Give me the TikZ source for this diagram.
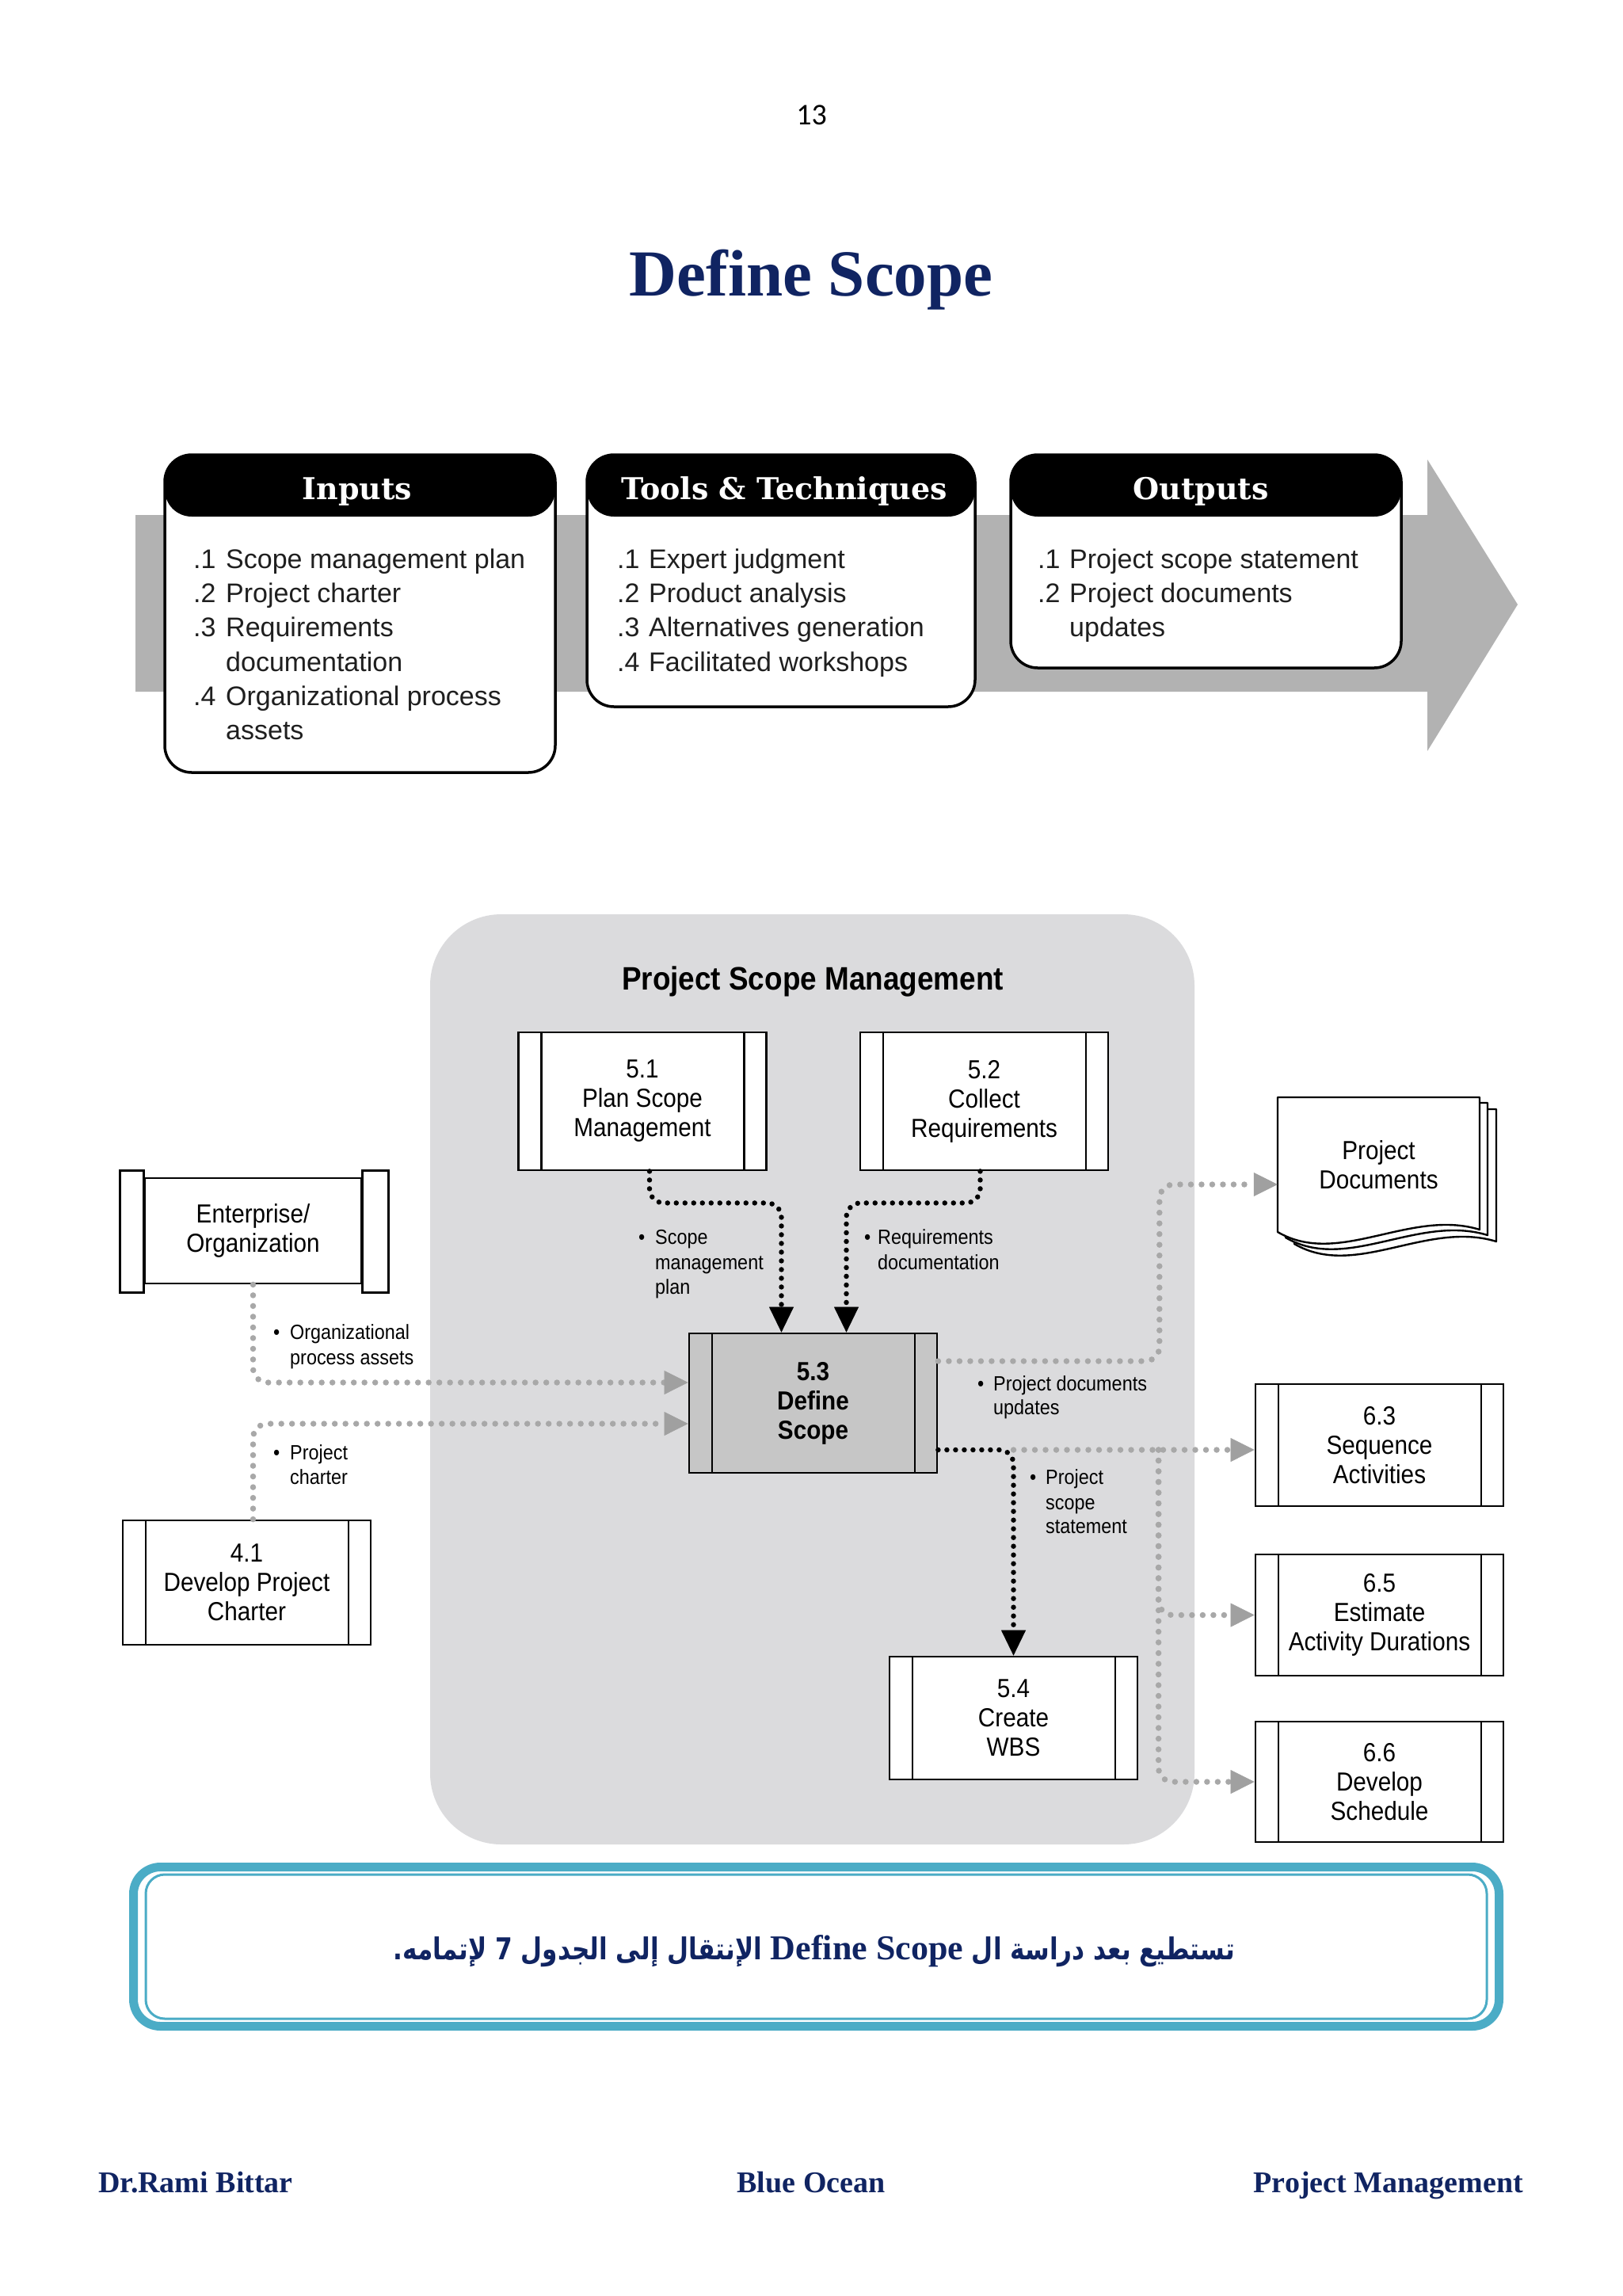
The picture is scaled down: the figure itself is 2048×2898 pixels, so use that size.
\documentclass[tikz,border=0pt]{standalone}
\usepackage{fontspec}
\setmainfont{Liberation Sans}
\newfontfamily\serifbf{Liberation Serif}
\newfontfamily\slabf{DejaVu Serif}
\newfontfamily\narrowf[FakeStretch=0.9]{Liberation Sans}
\newfontfamily\numf{Carlito}
\newfontfamily\arabicfont[Script=Arabic,FakeStretch=0.82]{DejaVu Sans}
\TeXXeTstate=1
\usetikzlibrary{arrows.meta,calc}
\newcommand\setfs[2]{\fontsize{#1}{#2}\selectfont}
\definecolor{navy}{RGB}{16,36,98}
\definecolor{boxteal}{RGB}{75,172,198}
\definecolor{bandgray}{RGB}{178,178,178}
\definecolor{regiongray}{RGB}{219,219,221}
\definecolor{procgray}{RGB}{198,198,198}
\definecolor{dotgray}{RGB}{168,168,168}
\definecolor{arrowgray}{RGB}{160,160,160}
\begin{document}
\begin{tikzpicture}[x=1pt,y=-1pt,
  proc/.style={draw, line width=2.8pt, fill=white, minimum width=313pt, minimum height=#1,
    inner sep=0pt, align=center, font=\narrowf\setfs{33}{37},
    path picture={
      \draw[line width=2.4pt] ([xshift=29pt]path picture bounding box.north west) -- ([xshift=29pt]path picture bounding box.south west);
      \draw[line width=2.4pt] ([xshift=-28pt]path picture bounding box.north east) -- ([xshift=-28pt]path picture bounding box.south east);}},
  proc/.default=155pt,
  topbox/.style={draw, line width=3.5pt, fill=white, rounded corners=34pt, inner sep=0pt,
    path picture={\fill[black] (path picture bounding box.north west) rectangle ([yshift=-78pt]path picture bounding box.north east);}},
  hdr/.style={anchor=base, inner sep=0pt, text=white, font=\slabf\bfseries\setfs{38}{40}},
  item/.style={anchor=base west, inner sep=0pt, text=black!88, font=\setfs{34}{40}},
  lbl/.style={anchor=base west, inner sep=0pt, font=\narrowf\setfs{26}{31}},
  foot/.style={inner sep=0pt, text=navy, font=\serifbf\bfseries\setfs{38}{40}},
  blackdot/.style={draw=black, line width=6.5pt, line cap=round, dash pattern=on 0pt off 11pt,
    rounded corners=18pt, -{Triangle[length=32pt,width=31pt,line width=0.5pt]}},
  graydot/.style={draw=dotgray, line width=7.5pt, line cap=round, dash pattern=on 0pt off 13.5pt,
    rounded corners=18pt, -{Triangle[length=30pt,width=30pt,line width=0.5pt,color=arrowgray]}}
]
\fill[white] (0,0) rectangle (2048,2898);
\useasboundingbox (0,0) rectangle (2048,2898);

% page number and title
\node[font=\numf\setfs{38}{40}, anchor=base, inner sep=0pt] (pnum) at (1024.5,158) {13};
\node[font=\serifbf\bfseries\setfs{83}{90}, text=navy, anchor=base, inner sep=0pt] (title) at (1024,373) {Define Scope};

% ITTO band arrow
\fill[bandgray] (171,650) -- (1802,650) -- (1802,580) -- (1916,763) -- (1802,948) -- (1802,873) -- (171,873) -- cycle;

% ITTO boxes
\node[topbox, minimum width=493pt, minimum height=401pt] (inbox) at (454.5,774.5) {};
\node[topbox, minimum width=490pt, minimum height=318pt] (toolbox) at (986,733) {};
\node[topbox, minimum width=493pt, minimum height=269pt] (outbox) at (1522.5,708.5) {};
\node[hdr] (inhdr) at (451,630) {Inputs};
\node[hdr] (toolhdr) at (990,630) {Tools \& Techniques};
\node[hdr] (outhdr) at (1516,630) {Outputs};

\node[item] (in1n) at (244,717) {.1}; \node[item] (in1t) at (285,717) {Scope management plan};
\node[item] (in2n) at (244,760) {.2}; \node[item] (in2t) at (285,760) {Project charter};
\node[item] (in3n) at (244,803) {.3}; \node[item] (in3t) at (285,803) {Requirements};
\node[item] (in3u) at (285,847) {documentation};
\node[item] (in4n) at (244,890) {.4}; \node[item] (in4t) at (285,890) {Organizational process};
\node[item] (in4u) at (285,933) {assets};

\node[item] (tt1n) at (779,717) {.1}; \node[item] (tt1t) at (819,717) {Expert judgment};
\node[item] (tt2n) at (779,760) {.2}; \node[item] (tt2t) at (819,760) {Product analysis};
\node[item] (tt3n) at (779,803) {.3}; \node[item] (tt3t) at (819,803) {Alternatives generation};
\node[item] (tt4n) at (779,847) {.4}; \node[item] (tt4t) at (819,847) {Facilitated workshops};

\node[item] (ou1n) at (1310,717) {.1}; \node[item] (ou1t) at (1350,717) {Project scope statement};
\node[item] (ou2n) at (1310,760) {.2}; \node[item] (ou2t) at (1350,760) {Project documents};
\node[item] (ou2u) at (1350,803) {updates};

% Project Scope Management region
\fill[regiongray, rounded corners=90pt] (543,1154) rectangle (1508,2328);
\node[font=\narrowf\bfseries\setfs{41}{44}, anchor=base, inner sep=0pt] (psm) at (1026,1249) {Project Scope Management};

% processes
\node[proc=174pt] (p51) at (811,1390) {5.1\\Plan Scope\\Management};
\node[proc=174pt] (p52) at (1242.5,1390) {5.2\\Collect\\Requirements};
\node[proc=176pt, fill=procgray, font=\narrowf\bfseries\setfs{33}{37}] (p53) at (1026.5,1771) {5.3\\Define\\Scope};
\node[proc=155pt] (p54) at (1279.5,2168.5) {5.4\\Create\\WBS};
\node[proc=157pt] (p41) at (311.5,1997.5) {4.1\\Develop Project\\Charter};
\node[proc=154pt] (p63) at (1741.5,1824) {6.3\\Sequence\\Activities};
\node[proc=153pt] (p65) at (1741.5,2038.5) {6.5\\Estimate\\Activity Durations};
\node[proc=152pt] (p66) at (1741.5,2249) {6.6\\Develop\\Schedule};

% enterprise / organization
\node[draw, line width=2.8pt, fill=white, minimum width=273pt, minimum height=133pt, inner sep=0pt,
  align=center, font=\narrowf\setfs{33}{37}] (ent) at (319.5,1553.5) {Enterprise/\\Organization};
\draw[line width=2.8pt, fill=white] ($(ent.north west)+(-30,-8)$) rectangle ($(ent.south west)+(0,10)$);
\draw[line width=2.8pt, fill=white] ($(ent.north east)+(0,-8)$) rectangle ($(ent.south east)+(33,10)$);

% project documents (stacked pages)
\foreach \dx/\dy in {21/15,10/7,0/0}{
  \begin{scope}[shift={(\dx,\dy)}]
    \draw[line width=2.4pt, fill=white, line join=round]
      (1613,1385) -- (1868,1385) -- (1868,1552)
      .. controls (1780,1525) and (1690,1600) .. (1613,1555) -- cycle;
  \end{scope}
}
\node[align=center, inner sep=0pt, font=\narrowf\setfs{33}{37}, minimum width=255pt, minimum height=170pt] (docs) at (1740.5,1470) {Project\\Documents};

% connectors
\coordinate (out53) at ([yshift=-59pt]p53.east);
\coordinate (split) at (p54.north |- out53);
\coordinate (branch) at ($(split -| p63.west)+(-121,0)$);
\draw[graydot] (split) -- (split -| p63.west);
\draw[graydot] (branch) |- (p65.west);
\draw[graydot] (branch) |- (p66.west);
\draw[graydot] ([yshift=53pt]p53.east) -| ($([yshift=-25pt]docs.west)+(-149,0)$) -- ([yshift=-25pt]docs.west);
\draw[graydot] (ent.south) |- ([yshift=26pt]p53.west);
\draw[graydot] ([xshift=8pt]p41.north) |- ([yshift=-26pt]p53.west);
\draw[blackdot] (out53) -| (p54.north);
\draw[blackdot] ([xshift=9pt]p51.south) -- ++(0,40) -| ([xshift=-40pt]p53.north);
\draw[blackdot] ([xshift=-5pt]p52.south) -- ++(0,40) -| ([xshift=42pt]p53.north);

% connector labels
\node[lbl] (b1) at (806,1570) {•};
\node[lbl] (l1a) at (827,1570) {Scope};
\node[lbl] (l1b) at (827,1602) {management};
\node[lbl] (l1c) at (827,1633) {plan};
\node[lbl] (b2) at (1091,1570) {•};
\node[lbl] (l2a) at (1108,1570) {Requirements};
\node[lbl] (l2b) at (1108,1602) {documentation};
\node[lbl] (b3) at (1234,1755) {•};
\node[lbl] (l3a) at (1254,1755) {Project documents};
\node[lbl] (l3b) at (1254,1785) {updates};
\node[lbl] (b4) at (1300,1873) {•};
\node[lbl] (l4a) at (1320,1873) {Project};
\node[lbl] (l4b) at (1320,1905) {scope};
\node[lbl] (l4c) at (1320,1935) {statement};
\node[lbl] (b5) at (345,1690) {•};
\node[lbl] (l5a) at (366,1690) {Organizational};
\node[lbl] (l5b) at (366,1722) {process assets};
\node[lbl] (b6) at (345,1842) {•};
\node[lbl] (l6a) at (366,1842) {Project};
\node[lbl] (l6b) at (366,1873) {charter};

% note box
\node[draw=boxteal, line width=11pt, rounded corners=34pt, minimum width=1724pt, minimum height=201pt, inner sep=0pt] (notebox) at (1030.5,2457) {};
\draw[boxteal, line width=3pt, rounded corners=24pt] (184,2366) rectangle (1877,2548);
\node[font=\arabicfont\bfseries\setfs{38}{46}, text=navy, anchor=base, inner sep=0pt] (note) at (1028,2473)
  {\beginR تستطيع بعد دراسة ال \beginL{\serifbf\bfseries\setfs{44}{46}Define Scope}\endL{} الإنتقال إلى الجدول 7 لإتمامه.\endR};

% footer
\node[foot, anchor=base west] (f1) at (124,2767) {Dr.Rami Bittar};
\node[foot, anchor=base] (f2) at (1024,2767) {Blue Ocean};
\node[foot, anchor=base east] (f3) at (1923,2767) {Project Management};
\end{tikzpicture}
\end{document}
